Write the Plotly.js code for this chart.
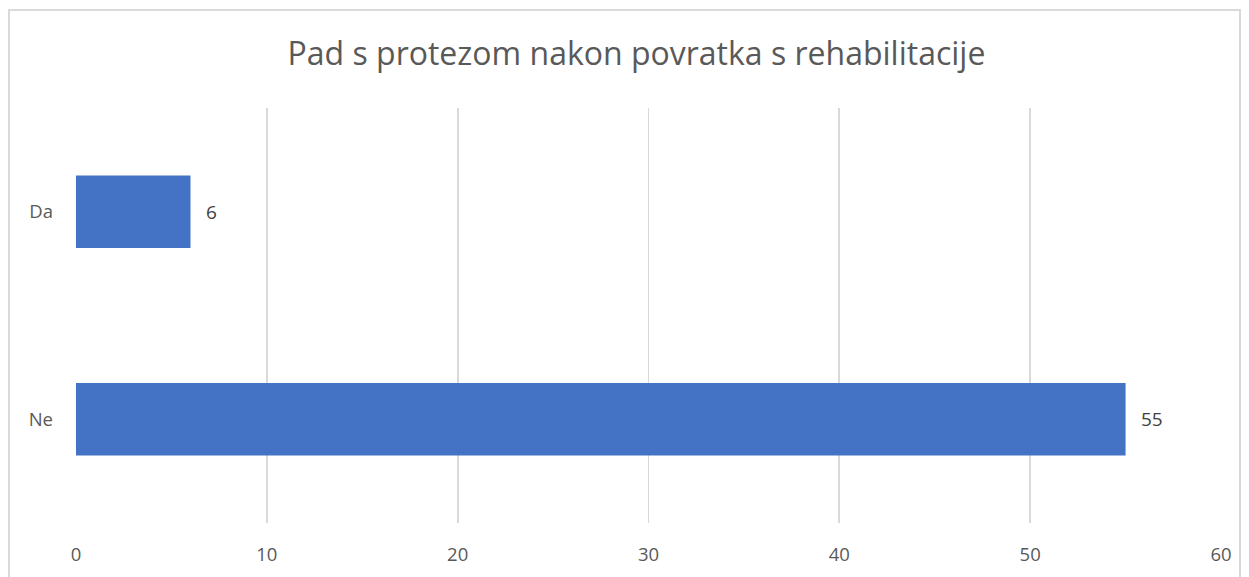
<!DOCTYPE html>
<html>
<head>
<meta charset="utf-8">
<script src="https://cdn.plot.ly/plotly-3.0.1.min.js"></script>
<style>html,body{margin:0;padding:0;background:#fff;}#chart{width:1249px;height:577px;}</style>
</head>
<body>
<div id="chart"></div>
<script>
const categories = ["Ne", "Da"];
const values = [55, 6];
const chartTitle = "Pad s protezom nakon povratka s rehabilitacije";
const xTicks = [0, 10, 20, 30, 40, 50, 60];

const font = "Open Sans, Noto Sans, sans-serif";

const trace = {
  type: "bar",
  orientation: "h",
  x: values,
  y: categories,
  width: 0.35,
  marker: { color: "#4472C4" },
  hoverinfo: "none"
};

const annotations = values.map((v, i) => ({
  x: v, y: categories[i], xref: "x", yref: "y",
  text: String(v), showarrow: false, xanchor: "left", xshift: 13,
  font: { family: font, size: 19, color: "#404040" }
}));

const layout = {
  width: 1249, height: 577,
  margin: { l: 76, r: 28, t: 108, b: 54 },
  paper_bgcolor: "#ffffff", plot_bgcolor: "#ffffff",
  showlegend: false,
  title: {
    text: chartTitle,
    font: { family: font, size: 32, color: "#595959" },
    x: 0.4895, xref: "paper", xanchor: "center",
    y: 56, yref: "container", yanchor: "middle"
  },
  xaxis: {
    range: [0, 60],
    tickvals: xTicks,
    ticktext: xTicks.map(String),
    showgrid: true, gridcolor: "#d9d9d9", gridwidth: 1.8,
    zeroline: false, showline: false, ticks: "",
    ticklabelstandoff: 18,
    tickfont: { family: font, size: 18.5, color: "#595959" },
    fixedrange: true
  },
  yaxis: {
    type: "category",
    categoryorder: "array", categoryarray: categories,
    range: [-0.5, 1.5],
    showgrid: false, zeroline: false, showline: false, ticks: "",
    ticklabelstandoff: 22,
    tickfont: { family: font, size: 18.5, color: "#595959" },
    fixedrange: true
  },
  annotations: annotations,
  shapes: [{
    type: "rect", xref: "paper", yref: "paper", layer: "below",
    x0: (9 - 76) / 1145, x1: (1240 - 76) / 1145,
    y0: -0.3, y1: (523 - 10) / 415,
    line: { color: "#d9d9d9", width: 2 }, fillcolor: "rgba(0,0,0,0)"
  }]
};

Plotly.newPlot("chart", [trace], layout, { displayModeBar: false, staticPlot: true });
</script>
</body>
</html>
